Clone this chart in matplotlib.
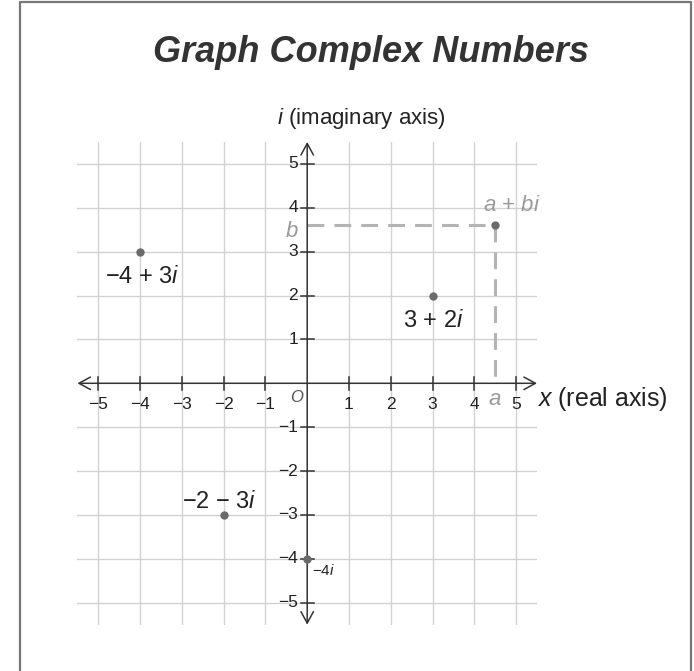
import matplotlib
matplotlib.use("Agg")
import matplotlib.pyplot as plt
from matplotlib.lines import Line2D
from matplotlib.patches import FancyArrowPatch

plt.rcParams['font.family'] = ['Liberation Sans', 'DejaVu Sans']
plt.rcParams['mathtext.fontset'] = 'custom'
plt.rcParams['mathtext.rm'] = 'Liberation Sans'
plt.rcParams['mathtext.it'] = 'Liberation Sans:italic'

# plotted complex numbers (real, imaginary) and their labels
points_re = [-4, 3, -2, 0]
points_im = [3, 2, -3, -4]
point_labels = ["\u22124 + 3$i$", "3 + 2$i$", "\u22122 \u2212 3$i$", "\u22124$i$"]
label_re = [-3.94, 3.03, -2.09, 0.4]
label_im = [2.43, 1.43, -2.70, -4.27]
label_sizes = [17, 17, 17, 11]

# general point a + bi
a_val = 4.5
b_val = 3.6

ticks = [-5, -4, -3, -2, -1, 1, 2, 3, 4, 5]
tick_labels = ["\u22125", "\u22124", "\u22123", "\u22122", "\u22121", "1", "2", "3", "4", "5"]

W, H = 694, 671
fig = plt.figure(figsize=(W / 100, H / 100), dpi=100)
ax = fig.add_axes([77.4 / W, (H - 624.7) / H, 459.6 / W, 482.8 / H])
ax.set_xlim(-5.5, 5.5)
ax.set_ylim(-5.5, 5.5)
ax.axis('off')

grid_c = '#d2d2d2'
axis_c = '#333333'
for t in ticks:
    ax.plot([t, t], [-5.5, 5.5], color=grid_c, lw=1.0, zorder=1)
    ax.plot([-5.5, 5.5], [t, t], color=grid_c, lw=1.0, zorder=1)

# axes with open arrowheads
for pa, pb in [((-5.5, 0), (5.5, 0)), ((0, -5.5), (0, 5.5))]:
    arr = FancyArrowPatch(pa, pb, arrowstyle='<->,head_length=0.55,head_width=0.3',
                          mutation_scale=15, color=axis_c, lw=1.1,
                          shrinkA=0, shrinkB=0, zorder=3)
    ax.add_patch(arr)

# tick marks and labels
tx = 0.16
ty = 0.15
for t, lab in zip(ticks, tick_labels):
    ax.plot([t, t], [-ty, ty], color=axis_c, lw=1.1, zorder=3)
    ax.plot([-tx, tx], [t, t], color=axis_c, lw=1.1, zorder=3)
    ax.text(t, -0.48, lab, ha='center', va='center', fontsize=12.5, color='#222222')
    ax.text(-0.22, t, lab, ha='right', va='center', fontsize=12.5, color='#222222')

ax.text(-0.25, -0.33, 'O', ha='center', va='center', fontsize=12,
        style='italic', color='#555555')

# dashed guides to a + bi
dash_c = '#b4b4b4'
ax.plot([0, a_val], [b_val, b_val], color=dash_c, lw=2.2,
        linestyle=(0, (5.5, 3.3)), dash_capstyle='butt', zorder=2)
ax.plot([a_val, a_val], [b_val, 0.12], color=dash_c, lw=2.2,
        linestyle=(0, (5.5, 3.3)), dash_capstyle='butt', zorder=2)

pt_c = '#6b6b6b'
ax.scatter(points_re + [a_val], points_im + [b_val], s=36, color=pt_c,
           zorder=4, linewidths=0)

for x, y, lab, fs in zip(label_re, label_im, point_labels, label_sizes):
    ax.text(x, y, lab, ha='center', va='center', fontsize=fs, color='#222222')

gray_t = '#9a9a9a'
ax.text(4.9, 4.05, "$a$ + $bi$", ha='center', va='center', fontsize=16, color=gray_t)
ax.text(a_val, -0.38, "$a$", ha='center', va='center', fontsize=16, color=gray_t)
ax.text(-0.36, 3.45, "$b$", ha='center', va='center', fontsize=16, color=gray_t)

ax.text(5.5, -0.36, "$x$ (real axis)", ha='left', va='center', fontsize=18,
        color='#222222', clip_on=False)
ax.text(1.3, 6.04, "$i$ (imaginary axis)", ha='center', va='center', fontsize=16,
        color='#222222', clip_on=False)

fig.text(371 / W, 1 - 52 / H, 'Graph Complex Numbers', ha='center', va='center',
         fontsize=26, fontweight='bold', style='italic', color='#333333')

# outer frame, open at the bottom
lx, rx, ty_f = 19.5 / W, 690.5 / W, 1 - 1.5 / H
fig.add_artist(Line2D([lx, lx, rx, rx], [-0.01, ty_f, ty_f, -0.01],
                      transform=fig.transFigure, color='#777777', lw=1.6))

fig.savefig('out.png', dpi=100)
